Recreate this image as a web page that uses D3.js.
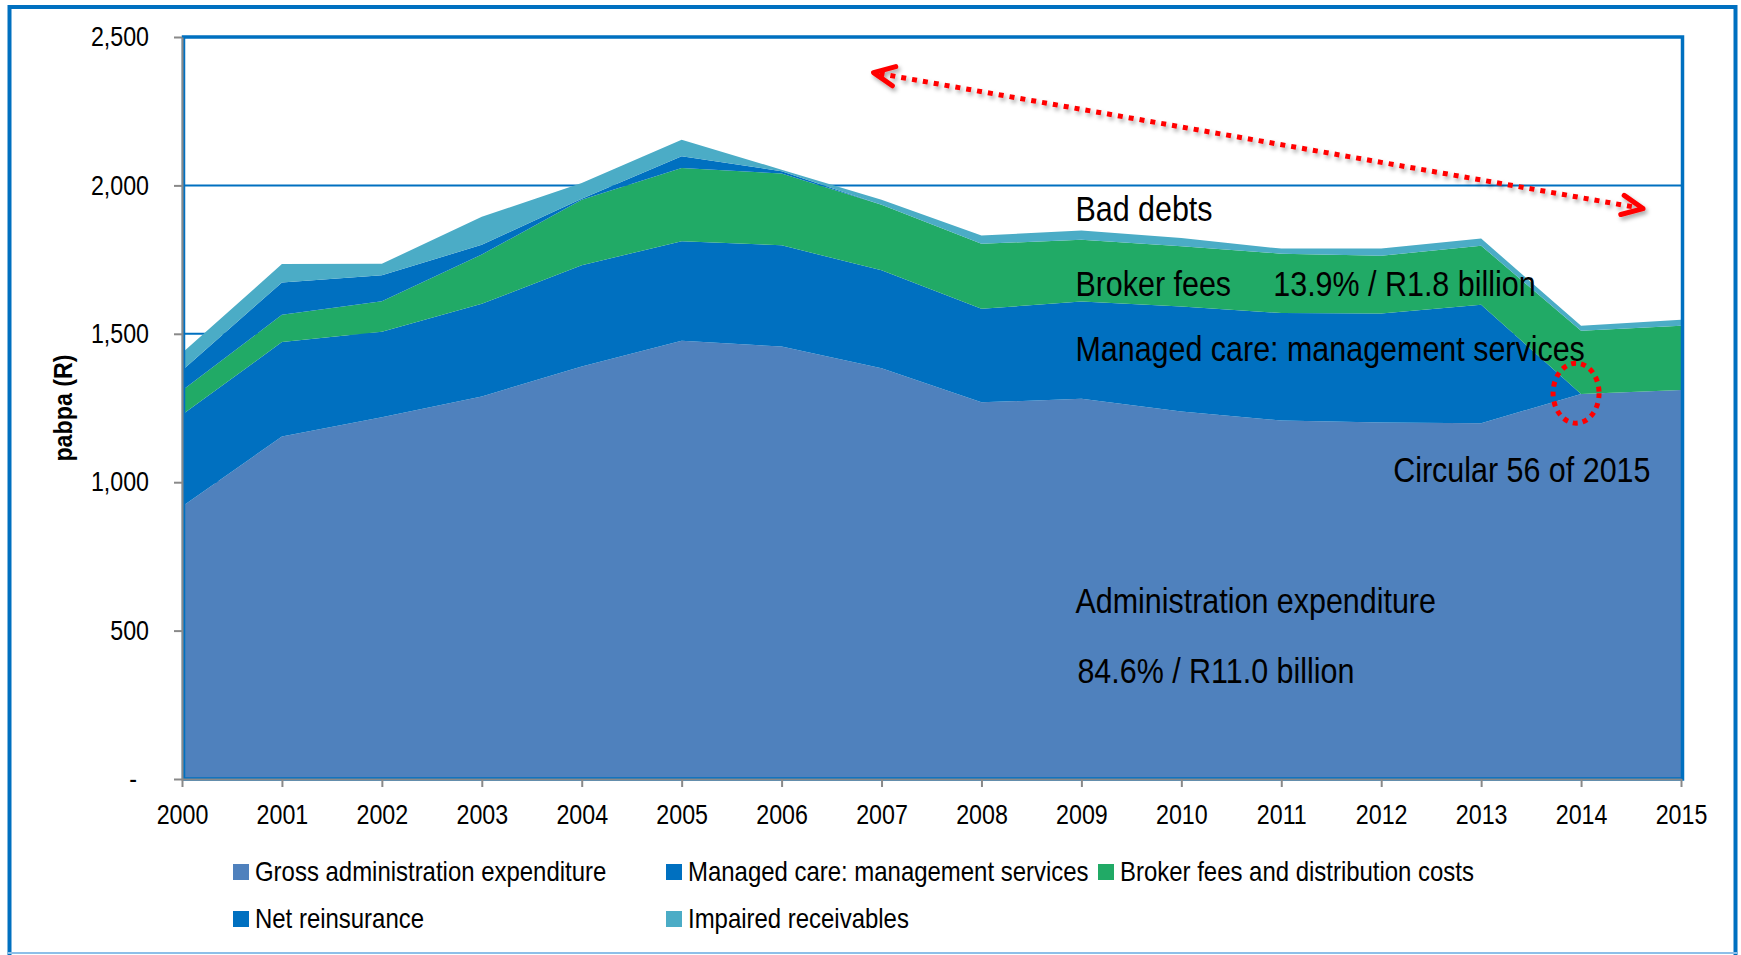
<!DOCTYPE html>
<html>
<head>
<meta charset="utf-8">
<script src="https://cdn.jsdelivr.net/npm/d3@7"></script>
<style>
  body { margin: 0; background: #fff; }
  text { font-family: "Liberation Sans", Arial, sans-serif; }
</style>
</head>
<body>
<div id="viz"></div>
<script>
// data (R per beneficiary per annum)
const years = [2000, 2001, 2002, 2003, 2004, 2005, 2006, 2007, 2008, 2009, 2010, 2011, 2012, 2013, 2014, 2015];
const grossAdmin = [918, 1154, 1219, 1289, 1390, 1477, 1457, 1384, 1269, 1281, 1238, 1208, 1201, 1199, 1297, 1311];
const managedCare = [309, 318, 288, 312, 341, 335, 341, 330, 315, 328, 354, 362, 367, 399, 0, 0];
const brokerFees = [82, 92, 103, 166, 221, 247, 242, 221, 219, 208, 203, 200, 195, 199, 213, 216];
const netReinsurance = [67, 109, 87, 33, 3, 39, 8, 0, 0, 0, 0, 0, 0, 0, 0, 0];
const impaired = [59, 62, 39, 94, 53, 56, 5, 17, 28, 31, 28, 17, 24, 24, 17, 20];

const seriesNames = ["Gross administration expenditure", "Managed care: management services",
  "Broker fees and distribution costs", "Net reinsurance", "Impaired receivables"];
const seriesColors = ["#4F81BD", "#0070C0", "#21AA66", "#0070C0", "#4BACC6"];
const yTicks = [0, 500, 1000, 1500, 2000, 2500];

//set up width and height
const width = 1741;
const height = 955;
const plotLeft = 182, plotRight = 1681, plotTop = 37, plotBottom = 779;

const svg = d3.select("#viz").append("svg")
    .attr("width", width)
    .attr("height", height);

// drop shadow for the red arrow
svg.append("defs").append("filter")
    .attr("id", "shadow")
    .attr("x", "-10%").attr("y", "-50%").attr("width", "120%").attr("height", "200%")
    .append("feDropShadow")
    .attr("dx", 2).attr("dy", 3).attr("stdDeviation", 2)
    .attr("flood-color", "#000").attr("flood-opacity", 0.35);

// squeeze text horizontally, the original uses a narrow font
function condense(sel, k) {
    sel.each(function() {
        const w = this.getComputedTextLength();
        d3.select(this).attr("textLength", w * k).attr("lengthAdjust", "spacingAndGlyphs");
    });
}

// outer frame
svg.append("path")
    .attr("d", `M9.5,${height} L9.5,7 L1735.5,7 L1735.5,${height}`)
    .attr("fill", "none")
    .attr("stroke", "#0070C0")
    .attr("stroke-width", 4);
svg.append("line")
    .attr("x1", 8).attr("x2", 1737).attr("y1", 953).attr("y2", 953)
    .attr("stroke", "#8DBFE8").attr("stroke-width", 2);

const x = d3.scaleLinear().domain([2000, 2015]).range([plotLeft, plotRight]);
const y = d3.scaleLinear().domain([0, 2500]).range([plotBottom, plotTop]);

// gridlines
svg.append("g")
    .selectAll("line")
    .data(yTicks.slice(1))
    .join("line")
    .attr("x1", plotLeft).attr("x2", plotRight)
    .attr("y1", d => y(d)).attr("y2", d => y(d))
    .attr("stroke", "#0070C0")
    .attr("stroke-width", 2);

// stacked areas
const table = years.map((yr, i) => ({
    year: yr,
    s0: grossAdmin[i], s1: managedCare[i], s2: brokerFees[i], s3: netReinsurance[i], s4: impaired[i]
}));
const keys = ["s0", "s1", "s2", "s3", "s4"];
const stacked = d3.stack().keys(keys)(table);

const area = d3.area()
    .x(d => x(d.data.year))
    .y0(d => y(d[0]))
    .y1(d => y(d[1]));

svg.append("g")
    .selectAll("path")
    .data(stacked)
    .join("path")
    .attr("d", area)
    .attr("fill", (d, i) => seriesColors[i]);

// plot frame
svg.append("rect")
    .attr("x", plotLeft + 1.5).attr("y", plotTop)
    .attr("width", plotRight - plotLeft).attr("height", plotBottom - plotTop)
    .attr("fill", "none")
    .attr("stroke", "#0070C0")
    .attr("stroke-width", 3.5);

// axes
const yAxis = svg.append("g")
    .attr("transform", `translate(${plotLeft},0)`)
    .call(d3.axisLeft(y).tickValues(yTicks).tickSize(8).tickSizeOuter(0).tickPadding(25)
        .tickFormat(d => d === 0 ? "-" : d3.format(",")(d)));
yAxis.selectAll("text")
    .attr("font-size", 27)
    .attr("fill", "#000")
    .attr("dx", d => d === 0 ? -12 : 0);

const xAxis = svg.append("g")
    .attr("transform", `translate(0,${plotBottom})`)
    .call(d3.axisBottom(x).tickValues(years).tickSize(8).tickSizeOuter(0).tickPadding(18)
        .tickFormat(d3.format("d")));
xAxis.selectAll("text")
    .attr("font-size", 27)
    .attr("fill", "#000");

svg.selectAll(".domain, .tick line")
    .attr("stroke", "#898989")
    .attr("stroke-width", 2);
condense(svg.selectAll(".tick text"), 0.86);

// y axis title
const ytitle = svg.append("text")
    .attr("transform", "translate(72,408) rotate(-90)")
    .attr("text-anchor", "middle")
    .attr("font-size", 25)
    .attr("font-weight", "bold")
    .text("pabpa (R)");
condense(ytitle, 0.93);

// annotations
const notes = [
    {text: "Bad debts", yr: 2008.94, v: 1881},
    {text: "Broker fees", yr: 2008.94, v: 1626},
    {text: "13.9% / R1.8 billion", yr: 2010.92, v: 1626},
    {text: "Managed care: management services", yr: 2008.94, v: 1410},
    {text: "Circular 56 of 2015", yr: 2012.12, v: 1002},
    {text: "Administration expenditure", yr: 2008.94, v: 559},
    {text: "84.6% / R11.0 billion", yr: 2008.96, v: 323}
];
const noteText = svg.append("g")
    .selectAll("text")
    .data(notes)
    .join("text")
    .attr("x", d => x(d.yr))
    .attr("y", d => y(d.v))
    .attr("font-size", 35)
    .attr("fill", "#000")
    .text(d => d.text);
condense(noteText, 0.87);

// red dotted double arrow
const a0 = [x(2006.92), y(2380)], a1 = [x(2014.62), y(1922)];
const ang = Math.atan2(a1[1] - a0[1], a1[0] - a0[0]);
function head(p, dir) {
    const len = 23, spread = 25 * Math.PI / 180;
    const b = dir + Math.PI;
    const p1 = [p[0] + len * Math.cos(b - spread), p[1] + len * Math.sin(b - spread)];
    const p2 = [p[0] + len * Math.cos(b + spread), p[1] + len * Math.sin(b + spread)];
    return `M${p1[0]},${p1[1]} L${p[0]},${p[1]} L${p2[0]},${p2[1]}`;
}
const arrow = svg.append("g").attr("filter", "url(#shadow)");
arrow.append("line")
    .attr("x1", a0[0] + 6).attr("y1", a0[1] + 1)
    .attr("x2", a1[0] - 6).attr("y2", a1[1] - 1)
    .attr("stroke", "#FF0000")
    .attr("stroke-width", 5)
    .attr("stroke-dasharray", "5,6");
arrow.append("path")
    .attr("d", head(a1, ang))
    .attr("fill", "none").attr("stroke", "#FF0000")
    .attr("stroke-width", 5).attr("stroke-linecap", "round").attr("stroke-linejoin", "round");
arrow.append("path")
    .attr("d", head(a0, ang + Math.PI))
    .attr("fill", "none").attr("stroke", "#FF0000")
    .attr("stroke-width", 5).attr("stroke-linecap", "round").attr("stroke-linejoin", "round");

// dotted circle at 2014
svg.append("ellipse")
    .attr("cx", x(2013.95)).attr("cy", y(1300))
    .attr("rx", 23).attr("ry", 30)
    .attr("fill", "none")
    .attr("stroke", "#FF0000")
    .attr("stroke-width", 5)
    .attr("stroke-dasharray", "5,5");

// legend, 3 columns
const legendCols = [233, 666, 1098];
const legendRows = [864, 911];
const legend = svg.append("g")
    .selectAll("g")
    .data(seriesNames)
    .join("g")
    .attr("transform", (d, i) => `translate(${legendCols[i % 3]},${legendRows[Math.floor(i / 3)]})`);
legend.append("rect")
    .attr("width", 16).attr("height", 16)
    .attr("fill", (d, i) => seriesColors[i]);
const legendText = legend.append("text")
    .attr("x", 22)
    .attr("y", 17)
    .attr("font-size", 28)
    .attr("fill", "#000")
    .text(d => d);
condense(legendText, 0.855);
</script>
</body>
</html>
